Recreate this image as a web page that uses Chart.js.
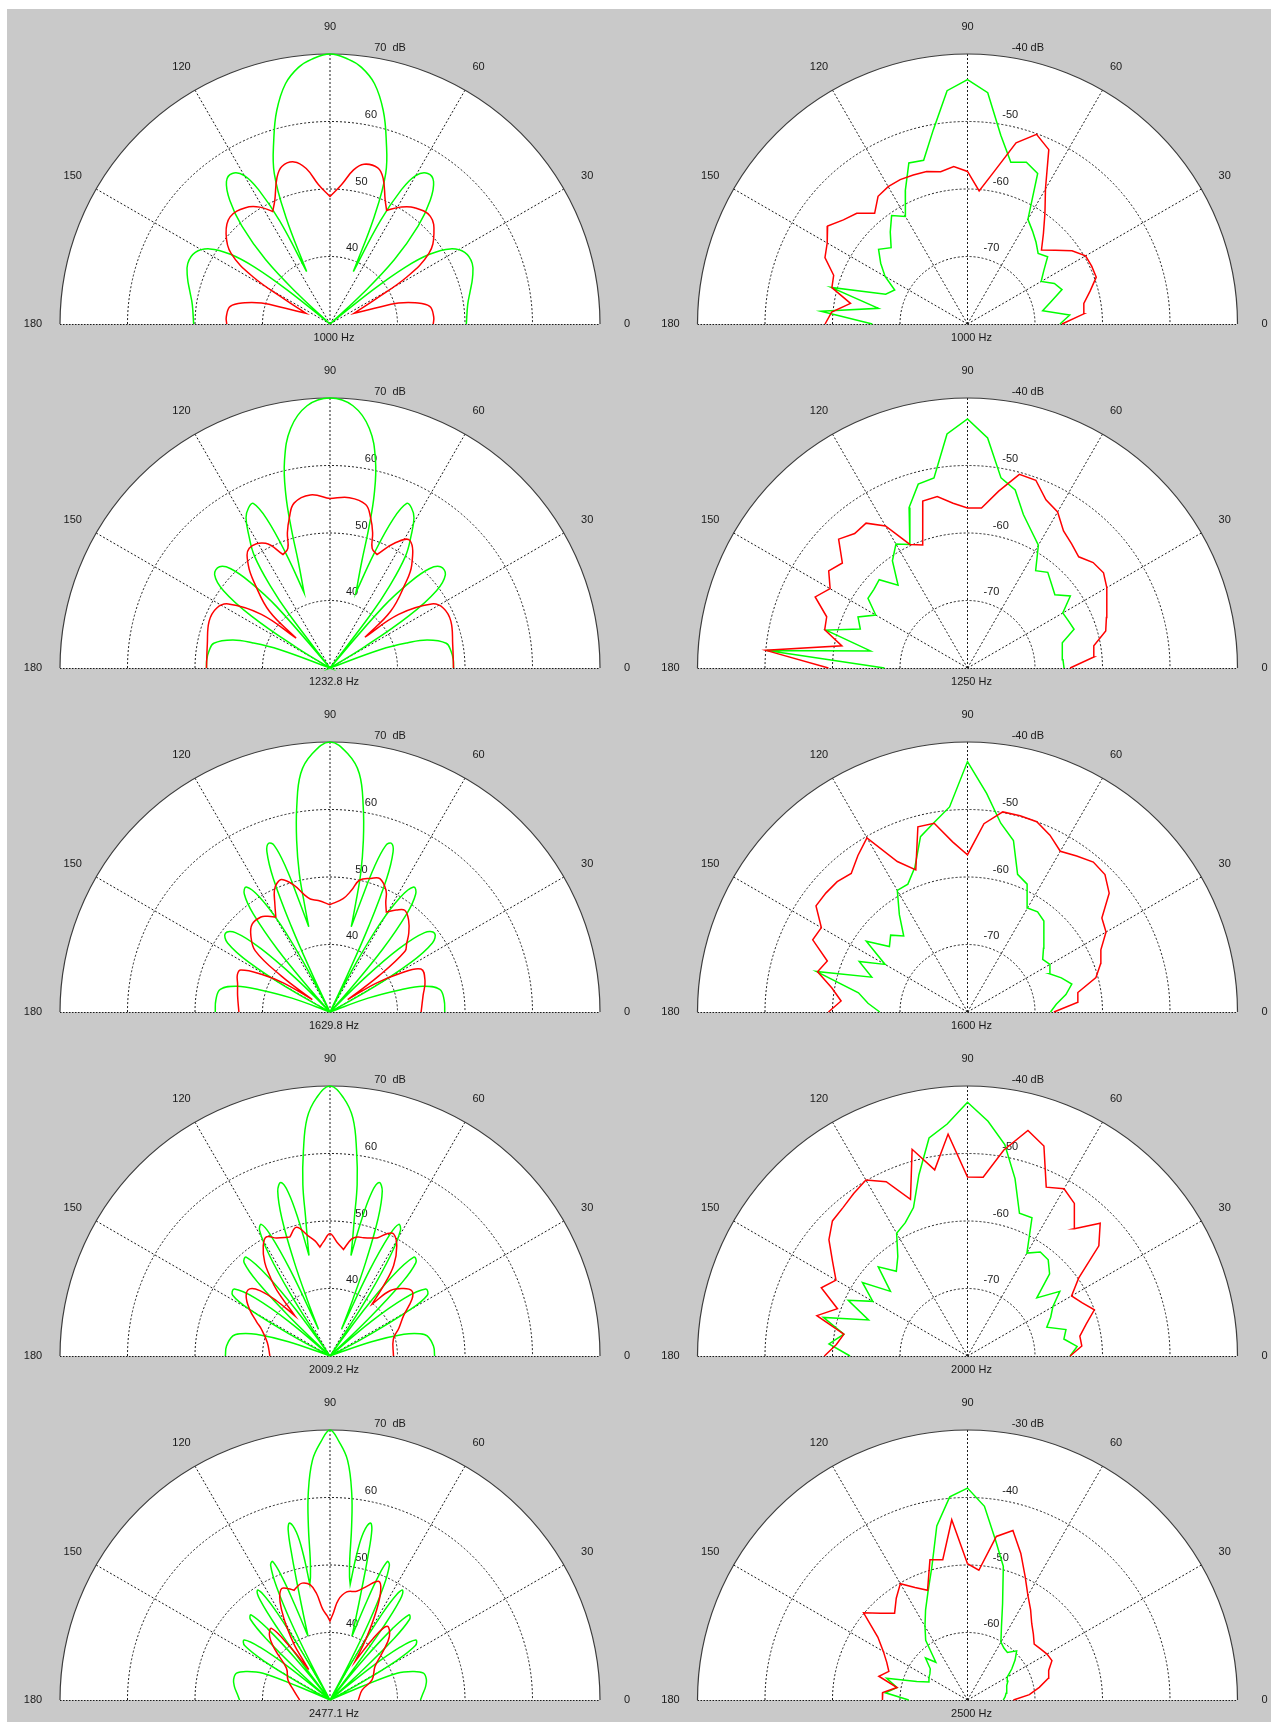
<!DOCTYPE html>
<html>
<head>
<meta charset="utf-8">
<script src="https://cdn.jsdelivr.net/npm/chart.js@4.4.1/dist/chart.umd.min.js"></script>
<style>
  html, body { margin: 0; padding: 0; background: #fff; }
  #fig { position: absolute; left: 7px; top: 9px; width: 1264px; height: 1713px; background: #c9c9c9; }
  canvas { position: absolute; }
</style>
</head>
<body>
<div id="fig"></div>
<script>
// ---- axes ----
const angleTicks = [0, 30, 60, 90, 120, 150, 180];
const simTicks = [40, 50, 60, 70];            // centre of the simulated plots is 30 dB
const simCenter = 30;
const measTicks = [
  [-70, -60, -50, -40], [-70, -60, -50, -40], [-70, -60, -50, -40],
  [-70, -60, -50, -40], [-60, -50, -40, -30]
];
const measCenters = [-80, -80, -80, -80, -70];
const simFreqs = ['1000 Hz', '1232.8 Hz', '1629.8 Hz', '2009.2 Hz', '2477.1 Hz'];
const measFreqs = ['1000 Hz', '1250 Hz', '1600 Hz', '2000 Hz', '2500 Hz'];
const measAngles = [0, 5, 10, 15, 20, 25, 30, 35, 40, 45, 50, 55, 60, 65, 70, 75, 80, 85, 90,
  95, 100, 105, 110, 115, 120, 125, 130, 135, 140, 145, 150, 155, 160, 165, 170, 175, 180];

// ---- simulated patterns: [angle deg, level dB] ----
const simGreen1000 = [[0,50.2],[8,50.6],[13,51.3],[18,52.2],[23,52.9],[28,52.6],[32,51],[35,48],[37,44],[38.5,38],[40,30],[41.5,30],[43,36.5],[45,43.5],[48,49.5],[51,53.6],[54,56.1],[57,56.6],[60,55.4],[62,52.5],[64,47],[66,38.5],[67.6,47.2],[69.7,53.8],[73,58.5],[76,62.6],[79.5,66.2],[83,68.3],[86,69.3],[90,70],[94,69.3],[97,68.3],[100.5,66.2],[104,62.6],[107,58.5],[110.3,53.8],[112.4,47.2],[114,38.5],[116,47],[118,52.5],[120,55.4],[123,56.6],[126,56.1],[129,53.6],[132,49.5],[135,43.5],[137,36.5],[138.5,30],[140,30],[141.5,38],[143,44],[145,48],[148,51],[152,52.6],[157,52.9],[162,52.2],[167,51.3],[172,50.6],[180,50.2]];
const simRed1000 = [[0,45.3],[4,45.4],[10,45],[14,43],[17,40.6],[19.5,37],[24,33.9],[28.5,37.5],[31.5,43.4],[35.5,48],[41,50.4],[47,51.8],[54,51.3],[59,50.2],[63.5,48.8],[66,50.1],[70,53],[73,54.2],[78,54.2],[81.3,53.1],[85.3,50.7],[90,48.9],[94.7,50.7],[98.7,53.3],[102.5,54.6],[107,54.4],[110,53],[114,50.1],[117,48.7],[121,50.2],[126,51.3],[133,51.7],[139,50.4],[144.5,48],[148.5,43.4],[151.5,37.5],[156,33.9],[160.5,37],[163,40.6],[166,43],[170,45],[176,45.4],[180,45.3]];

const simGreen1233 = [[0,48.3],[4,48.3],[8,48.1],[12,47.6],[16,45],[18,42],[20,38],[22,30],[30,30],[31.5,36],[33.5,44],[36,49.5],[39,52],[42.5,52.2],[45,50.8],[47,47.5],[49,42],[50.5,30],[51.5,30],[52.7,40],[54,45],[56,50],[58.5,53],[60.8,55.5],[63,56.6],[65,56.9],[67,54],[69,48],[71,41.8],[73.4,46.5],[74.5,51.5],[75.7,56.5],[77.6,61.4],[80.7,66],[85,69],[90,70],[95,69],[99.3,66],[102.4,61.4],[104.3,56.5],[105.5,51.5],[106.6,46.5],[109,41.8],[111,48],[113,54],[115,56.9],[117,56.6],[119.2,55.5],[121.5,53],[124,50],[126,45],[127.3,40],[128.5,30],[129.5,30],[131,42],[133,47.5],[135,50.8],[137.5,52.2],[141,52],[144,49.5],[146.5,44],[148.5,36],[150,30],[158,30],[160,38],[162,42],[164,45],[168,47.6],[172,48.1],[176,48.3],[180,48.3]];
const simRed1233 = [[0,48.3],[10.7,48.5],[21.1,49.2],[27.8,49],[32.2,47.8],[38,42.9],[41.4,36.9],[43.1,42.3],[48.1,46.6],[51.6,49.5],[58,52.3],[62.7,50.8],[67.5,48.2],[70.6,48.8],[72.5,51],[74.8,53],[77.7,54.8],[83.5,55.4],[90,55.1],[96.5,55.8],[102.3,55],[105.2,53],[107.5,51],[109.4,48.8],[112.5,48.2],[117.3,50.8],[124,51.4],[128.4,49.5],[131.9,46.6],[136.9,42.3],[138.6,36.7],[142,42.9],[147.8,47.8],[152.2,49],[158.9,49.2],[169.3,48.5],[180,48.3]];

const simGreen1630 = [[0,47],[6,47],[11.7,46.6],[15.5,44.3],[17.5,41],[20,36],[22,30],[28.2,30],[29.5,37],[31.5,44],[34,48.3],[37,49.4],[40,48.3],[42.5,44],[44.5,37],[46,30],[47.7,30],[48.5,34],[50,42],[52,48.5],[54,51.6],[56.2,52.3],[58.5,50],[60.5,45],[62,38],[63.2,30],[64.2,30],[64.8,36],[65.7,44],[67,51.5],[68.5,55.5],[70,56.6],[71.5,56],[73,52.5],[74.5,47],[76,43],[76.7,46.5],[77.5,51],[79,55.9],[80.8,60.8],[83,65.6],[86,68.3],[90,70],[94,68.3],[97,65.6],[99.2,60.8],[101,55.9],[102.5,51],[103.3,46.5],[104,43],[105.5,47],[107,52.5],[108.5,56],[110,56.6],[111.5,55.5],[113,51.5],[114.3,44],[115.2,36],[115.8,30],[116.8,30],[118,38],[119.5,45],[121.5,50],[123.8,52.3],[126,51.6],[128,48.5],[130,42],[131.5,34],[132.3,30],[134,30],[135.5,37],[137.5,44],[140,48.3],[143,49.4],[146,48.3],[148.5,44],[150.5,37],[151.8,30],[158,30],[160,36],[162.5,41],[164.5,44.3],[168.3,46.6],[174,47],[180,47]];
const simRed1630 = [[0,43.5],[10,44],[18,44.8],[25.3,44.9],[29,41.6],[32,38],[35,33.2],[36.5,39],[39,44.3],[41.7,45.2],[45,46.5],[49.4,47.9],[53.7,48.7],[57,48],[60.6,47],[63,48.2],[65.2,49.8],[69.5,51.1],[73,50.7],[77.4,50],[80,48.3],[83.4,46.9],[90,45.9],[96,46.6],[99.9,47],[102.4,47.8],[106,49.6],[110,50.9],[112.5,50.6],[114.6,49.8],[117,48],[119.7,46.2],[123,46.9],[126,47.4],[131.5,47.4],[136,46.3],[140.7,44.3],[143.5,39],[145,33.2],[148,38],[151.2,41.6],[154.8,44.6],[158,44.8],[163.2,44.3],[170,43.9],[180,43.5]];

const simGreen2009 = [[0,45.5],[5.5,45.4],[11.7,44.7],[14,43.7],[16.4,41.4],[19,36.5],[21,30],[27.2,30],[28.2,36],[30,43.5],[32,47],[35,47.3],[37.8,44],[40,38],[41.5,30],[43,30],[44,38],[45.5,45],[47.4,48.8],[49.7,49.2],[52,45],[53.7,38],[55,30],[56,30],[56.5,33],[57.5,41],[59,47.5],[60.7,51.3],[62.4,52],[63.8,50],[65.2,44],[66.7,34.3],[68,39],[69.2,45],[70.7,51.5],[72.4,55.6],[74.2,56.7],[75.7,55],[77,50.5],[78.2,45.2],[79,47.5],[80,50.8],[81,55.7],[82.6,60.6],[84.5,65.4],[87,68.3],[90,70],[93,68.3],[95.5,65.4],[97.4,60.6],[99,55.7],[100,50.8],[101,47.5],[101.8,45.2],[103,50.5],[104.3,55],[105.8,56.7],[107.6,55.6],[109.3,51.5],[110.8,45],[112,39],[113.3,34.3],[114.8,44],[116.2,50],[117.6,52],[119.3,51.3],[121,47.5],[122.5,41],[123.5,33],[124,30],[125,30],[126.3,38],[128,45],[130.3,49.2],[132.6,48.8],[134.5,45],[136,38],[137,30],[138.5,30],[140,38],[142.2,44],[145,47.3],[148,47],[150,43.5],[151.8,36],[152.8,30],[159,30],[161,36.5],[163.6,41.4],[166,43.7],[168.3,44.7],[174.5,45.4],[180,45.5]];
const simRed2009 = [[0,39.4],[14.8,39.7],[22,41],[28.6,42.4],[34.8,44.8],[38.5,45.5],[42.5,44.8],[47.3,43.2],[51,39.9],[52.7,43.1],[54.9,46.4],[58.8,49.1],[62.5,50.4],[65,50],[68,48.9],[71,48.5],[74.1,48.2],[77,48.1],[79.6,47.6],[82.8,45.9],[86.5,46.9],[90,48.1],[93.4,46.9],[95.3,46.2],[97.4,47.2],[100.3,48.1],[104.6,49.7],[108.7,48.6],[114.4,49.2],[118.1,50],[121.2,49.1],[124.9,46.9],[126.9,44.9],[129,42.5],[131.1,37.9],[134.1,41.4],[137,44.2],[140.1,45.5],[144.3,45.3],[149.8,43.8],[155,42],[158.7,40.9],[167.9,39.5],[180,38.9]];

const simGreen2477 = [[0,43.4],[4,43.8],[8,44.3],[12,44.6],[16,44.4],[19,43],[21.8,40.7],[23,35],[24,30],[28,30],[29,35],[30.5,41],[32.5,45],[35,45.5],[37,43],[38.5,38],[40,30],[41.5,30],[42.4,36],[43.8,43],[45.4,46.8],[47.2,47.2],[48.8,44],[50.2,38],[51.2,30],[52.2,30],[52.8,36],[53.8,43],[55,48],[56.5,49.5],[57.7,48.5],[58.8,45],[59.8,38],[60.7,30],[61.5,30],[62.3,36],[63.4,43],[64.7,48.5],[66.2,51.8],[67.5,52.2],[68.7,49.5],[69.7,45],[71,40],[72.6,43],[74,47],[75.2,52],[76.2,56],[77.2,56.9],[78.7,55.3],[79.6,52],[80.1,47.4],[81,48.5],[82,51],[82.9,55.9],[84,60.8],[85.8,65.6],[88,68.3],[90,70],[92,68.3],[94.2,65.6],[96,60.8],[97.1,55.9],[98,51],[99,48.5],[99.9,47.4],[100.4,52],[101.3,55.3],[102.8,56.9],[103.8,56],[104.8,52],[106,47],[107.4,43],[109,40],[110.3,45],[111.3,49.5],[112.5,52.2],[113.8,51.8],[115.3,48.5],[116.6,43],[117.7,36],[118.5,30],[119.3,30],[120.2,38],[121.2,45],[122.3,48.5],[123.5,49.5],[125,48],[126.2,43],[127.2,36],[127.8,30],[128.8,30],[129.8,38],[131.2,44],[132.8,47.2],[134.6,46.8],[136.2,43],[137.6,36],[138.5,30],[140,30],[141.5,38],[143,43],[145,45.5],[147.5,45],[149.5,41],[151,35],[152,30],[156,30],[157,35],[158.2,40.7],[161,43],[164,44.4],[168,44.6],[172,44.3],[176,43.8],[180,43.4]];
const simRed2477 = [[0,34.2],[17.4,35],[25.5,36.9],[36.6,38.3],[42,40.4],[47,42.9],[52.3,43.8],[55,41],[57,36.8],[59.5,40.5],[62.7,45.1],[65.3,48],[67.8,49],[72.1,47.7],[76.2,46.6],[81.2,46.2],[85.2,44.9],[87.8,42.9],[90,41.7],[92,42.5],[94.6,43.5],[97.2,45.9],[99.7,47.3],[103.4,47.8],[106,47.5],[108.1,47.1],[110.5,47.6],[113.4,48],[116,47],[118.2,45.2],[120.5,42.7],[123,39.6],[124,37.2],[125,35.5],[127,40],[129.2,43.7],[133.5,43],[137.6,41],[143.8,38],[154.5,36.9],[164.8,35.6],[180,34.5]];

// ---- measured patterns, one value per entry of measAngles (dB) ----
const measGreen1000 = [-66.3,-64.8,-68.7,-67.2,-65.1,-65.8,-67.4,-66.2,-64.5,-65.2,-64.2,-63.2,-62.1,-55.4,-54.5,-55.2,-51.6,-45.6,-43.8,-45.3,-50.8,-54.9,-54.6,-58.2,-61.6,-60.4,-62.2,-64,-62.8,-64.3,-65.9,-68.1,-67.1,-59.1,-66.6,-58.2,-65.9];
const measRed1000 = [-66,-62.7,-62.5,-61.2,-59.7,-59.7,-59.8,-61.1,-63,-64.5,-62.5,-60,-56.9,-51.5,-50.1,-52.2,-57,-60.2,-57.4,-56.6,-57.1,-56.6,-56.5,-56.4,-56.5,-56.9,-58.6,-56.8,-56,-54.7,-56,-56.7,-58.9,-59.2,-62.4,-59.8,-58.9];
const measGreen1250 = [-65.7,-65.8,-65.7,-65.5,-63.2,-63.5,-63.7,-61.4,-63.1,-62.4,-61.5,-62.4,-59,-57.6,-55.8,-52.7,-51.4,-45.8,-43.1,-45.2,-51.4,-51.8,-54.7,-59.8,-58.8,-60.6,-64,-61.5,-61.9,-62,-64.3,-62.1,-63.1,-58.3,-65.4,-50.2,-67.7];
const measRed1250 = [-64.8,-61.2,-61,-58.8,-58.1,-57.2,-56.2,-55.4,-55.7,-56.7,-56,-55.2,-53.3,-52.5,-50.4,-50.3,-53.4,-56.2,-56.3,-55.5,-54.2,-54.4,-60.6,-59.8,-55.7,-53.8,-54,-53,-55.8,-54.9,-56.5,-55.1,-57.8,-58.1,-61.1,-50,-59.4];
const measGreen1600 = [-67.7,-66.8,-65.2,-64,-65.2,-66.6,-65.9,-66.4,-65.3,-64,-62.4,-61.9,-62.2,-59.1,-58.3,-53.7,-51.6,-47.5,-42.9,-49.5,-51.5,-53.1,-57.2,-59.1,-59.2,-62.4,-65.3,-63.9,-64.9,-61.7,-65.9,-62.3,-64.9,-56.8,-63.6,-65.2,-67];
const measRed1600 = [-67.2,-63.6,-63.4,-60.3,-59,-58.2,-56.3,-55.7,-52.6,-51.2,-51,-51.8,-52.5,-51.1,-50,-49.9,-49.9,-52,-56.7,-54.7,-51.6,-51.6,-57.6,-55.4,-50.2,-51.7,-53.2,-52.7,-52.6,-52.6,-55,-54.7,-57.9,-57,-59.6,-61.2,-59.4];
const measGreen2000 = [-64.8,-63.7,-65.5,-64.9,-67.5,-66.4,-65.4,-63.3,-66.6,-62.8,-61.4,-61.2,-62.4,-57.4,-57.5,-52.8,-48.2,-45.1,-42.4,-45.5,-47.2,-52.2,-56.6,-58.2,-59,-62,-63.6,-61.3,-65.1,-61,-63.8,-60.5,-64.4,-57.9,-61.4,-59.4,-62.6];
const measRed2000 = [-64.8,-63,-63.1,-61.8,-60,-61.3,-62.2,-59.9,-54.6,-52.2,-55.4,-52.4,-51.4,-52.4,-46.9,-45.4,-49,-53.4,-53.5,-47,-52,-48.3,-55.3,-51.5,-49.9,-50.6,-51.3,-51.7,-53.2,-55.6,-57.5,-56.1,-59.5,-56.9,-61.4,-60.5,-58.8];
const measGreen2500 = [-64.7,-64.4,-64.2,-64,-63.8,-63.4,-63.2,-62,-60.8,-59.7,-60.8,-60.6,-60.1,-58.1,-54.8,-49.5,-46,-41.2,-38.6,-39.8,-43.8,-49.6,-52.9,-55.3,-57.4,-59.2,-62.7,-61.2,-62.8,-63.2,-63.4,-63.7,-62,-57.6,-59.4,-57.8,-61.3];
const measRed2500 = [-63.2,-60.8,-59.2,-57.6,-57.2,-56.2,-56.4,-56.8,-57.1,-56.2,-55.2,-53.7,-52.1,-49.8,-46.9,-44,-45.4,-50.7,-49.8,-43.2,-48.9,-48.5,-52.7,-51.6,-50.1,-51.6,-53.2,-51.8,-49.9,-53.8,-55.6,-56.8,-57.6,-56.4,-59.4,-57.4,-57.4];

const simGreen = [simGreen1000, simGreen1233, simGreen1630, simGreen2009, simGreen2477];
const simRed = [simRed1000, simRed1233, simRed1630, simRed2009, simRed2477];
const measGreen = [measGreen1000, measGreen1250, measGreen1600, measGreen2000, measGreen2500];
const measRed = [measRed1000, measRed1250, measRed1600, measRed2000, measRed2500];

// ---- helpers ----
const RAD = Math.PI / 180;
const R_PX = 270;       // radius of the outer circle
const ROW_H = 344;
const CY = 324;         // baseline inside each canvas
const FONT = "11px 'Liberation Sans', Arial, sans-serif";

// polar (angle, dB) -> x/y in units of the outer radius; levels below the centre sit at the origin.
// Dips of the smooth patterns are repeated so the spline keeps them pointed.
function polarPoints(angles, levels, lo, hi, keepDips) {
  const out = [];
  levels.forEach((v, i) => {
    const r = Math.max(0, (v - lo) / (hi - lo));
    const p = { x: r * Math.cos(angles[i] * RAD), y: r * Math.sin(angles[i] * RAD) };
    out.push(p);
    if (keepDips && i > 0 && i < levels.length - 1 && v < levels[i - 1] && v < levels[i + 1]) out.push({ ...p });
  });
  return out;
}

const polarGrid = {
  id: 'polarGrid',
  beforeDatasetsDraw(chart, args, opts) {
    const { ctx, scales: { x, y } } = chart;
    const px = (r, deg) => [x.getPixelForValue(r * Math.cos(deg * RAD)), y.getPixelForValue(r * Math.sin(deg * RAD))];
    const [cx, cy] = px(0, 0);
    const R = x.getPixelForValue(1) - cx;
    ctx.save();
    ctx.beginPath();
    ctx.arc(cx, cy, R, Math.PI, 2 * Math.PI);
    ctx.closePath();
    ctx.fillStyle = '#ffffff';
    ctx.fill();

    ctx.strokeStyle = '#1c1c1c';
    ctx.lineWidth = 1;
    ctx.setLineDash([2, 2]);
    for (let k = 1; k < opts.ticks.length; k++) {
      ctx.beginPath();
      ctx.arc(cx, cy, R * k / opts.ticks.length, Math.PI, 2 * Math.PI);
      ctx.stroke();
    }
    angleTicks.forEach(a => {
      if (a === 0 || a === 180) return;
      const [ex, ey] = px(1, a);
      ctx.beginPath(); ctx.moveTo(cx, cy); ctx.lineTo(ex, ey); ctx.stroke();
    });
    ctx.setLineDash([1.5, 1.5]);
    ctx.beginPath(); ctx.moveTo(cx - R, cy + 0.5); ctx.lineTo(cx + R, cy + 0.5); ctx.stroke();
    ctx.setLineDash([]);
    ctx.strokeStyle = '#3c3c3c';
    ctx.lineWidth = 1.2;
    ctx.beginPath(); ctx.arc(cx, cy, R, Math.PI, 2 * Math.PI); ctx.stroke();

    ctx.fillStyle = '#1a1a1a';
    ctx.font = FONT;
    ctx.textAlign = 'center';
    ctx.textBaseline = 'middle';
    angleTicks.forEach(a => {
      const [tx, ty] = px(1.1, a);
      ctx.fillText(String(a), tx, ty);
    });
    ctx.fillText(opts.title, cx + 4, cy + 14);

    ctx.textAlign = 'left';
    ctx.textBaseline = 'bottom';
    const n = opts.ticks.length;
    opts.ticks.forEach((v, k) => {
      const [tx, ty] = px((k + 1) / n + 0.0125, 82);
      const txt = k === n - 1 ? '  ' + v + opts.unitSep + 'dB' : '  ' + v;
      ctx.fillText(txt, tx, ty);
    });
    ctx.restore();
  }
};

function makePanel(left, top, width, cxPx, cfg) {
  const cv = document.createElement('canvas');
  cv.width = width; cv.height = ROW_H;
  cv.style.left = left + 'px'; cv.style.top = top + 'px';
  cv.style.width = width + 'px'; cv.style.height = ROW_H + 'px';
  document.body.appendChild(cv);
  const line = (data, color, tension) => ({
    data, borderColor: color, borderWidth: 1.5, showLine: true, fill: false,
    pointRadius: 0, pointHoverRadius: 0, tension
  });
  new Chart(cv, {
    type: 'scatter',
    data: {
      datasets: [
        line(cfg.red, '#ff0000', cfg.tension),
        line(cfg.green, '#00ff00', cfg.tension)
      ]
    },
    options: {
      responsive: false,
      animation: false,
      events: [],
      layout: { padding: 0 },
      plugins: {
        legend: { display: false },
        tooltip: { enabled: false },
        polarGrid: { ticks: cfg.ticks, title: cfg.title, unitSep: cfg.unitSep }
      },
      scales: {
        x: { type: 'linear', display: false, min: -cxPx / R_PX, max: (width - cxPx) / R_PX },
        y: { type: 'linear', display: false, min: -(ROW_H - CY) / R_PX, max: CY / R_PX }
      }
    },
    plugins: [polarGrid]
  });
}

for (let i = 0; i < 5; i++) {
  const top = i * ROW_H;
  const hiSim = simTicks[simTicks.length - 1];
  makePanel(0, top, 636, 330, {
    title: simFreqs[i], ticks: simTicks, unitSep: '  ', tension: 0.4,
    green: polarPoints(simGreen[i].map(p => p[0]), simGreen[i].map(p => p[1]), simCenter, hiSim, true),
    red: polarPoints(simRed[i].map(p => p[0]), simRed[i].map(p => p[1]), simCenter, hiSim, true)
  });
  const ticks = measTicks[i];
  const hi = ticks[ticks.length - 1];
  makePanel(636, top, 635, 331.5, {
    title: measFreqs[i], ticks, unitSep: ' ', tension: 0,
    green: polarPoints(measAngles, measGreen[i], measCenters[i], hi, false),
    red: polarPoints(measAngles, measRed[i], measCenters[i], hi, false)
  });
}
</script>
</body>
</html>
